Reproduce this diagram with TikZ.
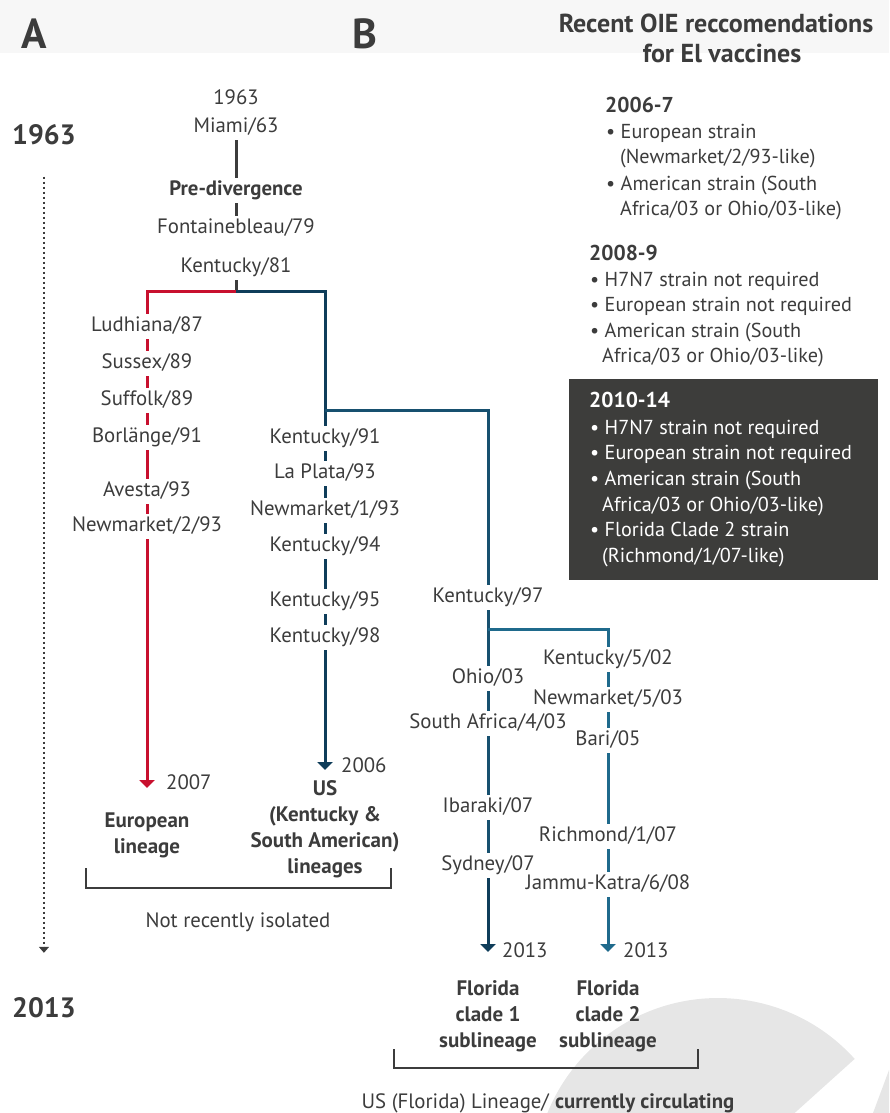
\documentclass[tikz,border=0pt]{standalone}
\usepackage{fontspec}
\setmainfont{PT Sans}
\usetikzlibrary{arrows.meta}

\definecolor{inkgray}{HTML}{3C3C3C}
\definecolor{eured}{HTML}{C8102E}
\definecolor{usnavy}{HTML}{0F3D5A}
\definecolor{flblue}{HTML}{17506F}
\definecolor{cladeblue}{HTML}{1F6A8C}
\definecolor{boxgray}{HTML}{3D3D3B}
\definecolor{logogray}{HTML}{E6E6E6}
\definecolor{bandgray}{HTML}{F7F7F7}

\begin{document}
\begin{tikzpicture}[x=1pt, y=-1pt]
  \tikzset{
    lbl/.style={text=inkgray, font=\fontsize{20.8}{24}\selectfont, anchor=base,
      inner xsep=2pt, inner ysep=3pt, text height=14pt, text depth=5pt},
    bold lbl/.style={lbl, font=\fontsize{20.8}{24}\selectfont\bfseries},
    lineage/.style={text=inkgray, font=\fontsize{21}{26}\selectfont\bfseries, align=center, inner sep=0pt},
    oie/.style={text=inkgray, font=\fontsize{20.2}{24}\selectfont, anchor=base west, inner sep=0pt},
    oie head/.style={oie, font=\fontsize{21.5}{24}\selectfont\bfseries},
    yr/.style={text=inkgray, font=\fontsize{28}{34}\selectfont\bfseries, anchor=base west, inner sep=0pt},
    panel/.style={text=inkgray, font=\fontsize{42}{48}\selectfont\bfseries, anchor=base west, inner sep=0pt},
    branch/.style={line width=3pt},
    euro/.style={branch, draw=eured},
    usline/.style={branch, draw=usnavy},
    flline/.style={branch, draw=flblue},
    cl2line/.style={branch, draw=cladeblue},
    endtip/.style={-{Triangle[width=15pt,length=8pt]}},
    brk/.style={draw=inkgray, line width=2.5pt},
    axisline/.style={draw=inkgray, line width=2.5pt,
      dash pattern=on 2.4pt off 2.6pt, -{Triangle[width=10pt,length=6pt]}},
  }

  \clip (0,0) rectangle (889,1113);

  % background
  \fill[bandgray] (0,0) rectangle (889,53);
  \fill[logogray] (718,1182) -- (854.7,1058.9) arc[start angle=42, end angle=200, radius=184pt] -- cycle;
  \fill[logogray] (873,1113) -- (889,1070) -- (889,1113) -- cycle;

  % headings
  \node[panel] (pa) at (21,49) {A};
  \node[panel] (pb) at (352,49) {B};
  \node[lbl, font=\fontsize{26}{30}\selectfont\bfseries] (title1) at (716,33) {Recent OIE reccomendations};
  \node[lbl, font=\fontsize{26}{30}\selectfont\bfseries] (title2) at (722,63) {for El vaccines};

  % time axis
  \node[yr] (y63) at (12,144) {1963};
  \node[yr] (y13) at (12,1017) {2013};
  \draw[axisline, shorten <=32pt, shorten >=44pt] (y63) -- (y13);

  % pre-divergence
  \node[lbl] (top63) at (236,105) {1963};
  \node[lbl] (miami) at (236,132) {Miami/63};
  \node[bold lbl] (predv) at (236,195) {Pre-divergence};
  \node[lbl] (fb79) at (236,233) {Fontainebleau/79};
  \node[lbl] (k81) at (236,272) {Kentucky/81};
  \draw[branch, draw=inkgray] (miami) -- (predv);
  \draw[branch, draw=inkgray] (predv) -- (fb79);

  \coordinate (split) at (236,291);
  \draw[branch, draw=inkgray] (k81) -- (split);

  % European lineage
  \foreach \n/\y/\t in {lud/331/{Ludhiana/87}, sus/368/{Sussex/89}, suf/405/{Suffolk/89},
      bor/442/{Borlänge/91}, ave/496/{Avesta/93}, nm293/531/{Newmarket/2/93}}
    \node[lbl] (\n) at (147,\y) {\t};
  \draw[euro] (split) -| (lud);
  \foreach \a/\b in {lud/sus, sus/suf, suf/bor, bor/ave, ave/nm293}
    \draw[euro] (\a) -- (\b);
  \coordinate (eu07) at (147,788);
  \draw[euro, endtip] (nm293) -- (eu07);
  \node[lbl, anchor=base west] (y07) at (164,789) {2007};
  \node[lineage] (eulin) at (147,835) {European\\lineage};

  % US lineages
  \foreach \n/\y/\t in {k91/443/{Kentucky/91}, lp93/478/{La Plata/93}, nm193/515/{Newmarket/1/93},
      k94/551/{Kentucky/94}, k95/606/{Kentucky/95}, k98/642/{Kentucky/98}}
    \node[lbl] (\n) at (325,\y) {\t};
  \draw[usline] (split) -| (k91);
  \foreach \a/\b in {k91/lp93, lp93/nm193, nm193/k94, k94/k95, k95/k98}
    \draw[usline] (\a) -- (\b);
  \coordinate (us06) at (325,770);
  \draw[usline, endtip] (k98) -- (us06);
  \node[lbl, anchor=base west] (y06) at (339,772) {2006};
  \node[lineage] (uslin) at (325,829) {US\\(Kentucky \&\\South American)\\lineages};

  % Florida lineage
  \coordinate (br2) at (325,410);
  \node[lbl] (k97) at (488,602) {Kentucky/97};
  \draw[flline] (br2) -| (k97);
  \foreach \n/\y/\t in {ohio/683/{Ohio/03}, sa403/728/{South Africa/4/03},
      iba/812/{Ibaraki/07}, syd/870/{Sydney/07}}
    \node[lbl] (\n) at (488,\y) {\t};
  \foreach \a/\b in {k97/ohio, ohio/sa403, sa403/iba, iba/syd}
    \draw[flline] (\a) -- (\b);
  \coordinate (c113) at (488,952);
  \draw[usline, endtip] (syd) -- (c113);
  \node[lbl, anchor=base west] (y13a) at (500,957) {2013};
  \node[lineage] (fc1) at (488,1016) {Florida\\clade 1\\sublineage};

  \coordinate (br3) at (488,629);
  \foreach \n/\y/\t in {k502/664/{Kentucky/5/02}, nm503/704/{Newmarket/5/03}, bari/745/{Bari/05},
      rich/841/{Richmond/1/07}, jk/889/{Jammu-Katra/6/08}}
    \node[lbl] (\n) at (608,\y) {\t};
  \draw[cl2line] (br3) -| (k502);
  \foreach \a/\b in {k502/nm503, nm503/bari, bari/rich, rich/jk}
    \draw[cl2line] (\a) -- (\b);
  \coordinate (c213) at (608,952);
  \draw[cl2line, endtip] (jk) -- (c213);
  \node[lbl, anchor=base west] (y13b) at (621,957) {2013};
  \node[lineage] (fc2) at (608,1016) {Florida\\clade 2\\sublineage};

  % brackets
  \draw[brk] (86,868) |- (391,888) -- (391,868);
  \node[lbl] (notrec) at (238,927) {Not recently isolated};
  \draw[brk] (394,1049) |- (698,1068) -- (698,1049);
  \node[lbl] (usfl) at (548,1108) {US (Florida) Lineage/ \textbf{currently circulating}};

  % OIE recommendations
  \node[oie head] (h067) at (605,113) {2006-7};
  \foreach \n/\x/\y/\t in {a1/606/139/{• European strain}, a2/620/164/{(Newmarket/2/93-like)},
      a3/606/190/{• American strain (South}, a4/620/215/{Africa/03 or Ohio/03-like)}}
    \node[oie] (\n) at (\x,\y) {\t};

  \node[oie head] (h089) at (589,260) {2008-9};
  \foreach \n/\x/\y/\t in {b1/590/286/{• H7N7 strain not required}, b2/590/311/{• European strain not required},
      b3/590/337/{• American strain (South}, b4/602/362/{Africa/03 or Ohio/03-like)}}
    \node[oie] (\n) at (\x,\y) {\t};

  \fill[boxgray] (569,379) rectangle (878,580);
  \node[oie head, text=white] (h1014) at (589,407) {2010-14};
  \foreach \n/\x/\y/\t in {c1/590/434/{• H7N7 strain not required}, c2/590/459/{• European strain not required},
      c3/590/485/{• American strain (South}, c4/602/511/{Africa/03 or Ohio/03-like)},
      c5/590/536/{• Florida Clade 2 strain}, c6/602/562/{(Richmond/1/07-like)}}
    \node[oie, text=white] (\n) at (\x,\y) {\t};
\end{tikzpicture}
\end{document}
